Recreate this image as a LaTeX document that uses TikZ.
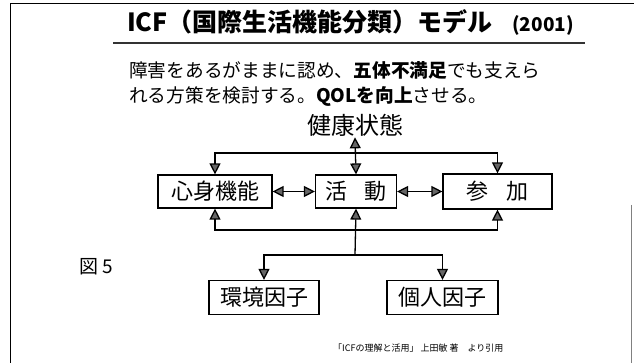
\documentclass[tikz,border=0pt]{standalone}
\usepackage{fontspec}
\newfontfamily\jp{Noto Sans CJK JP}
\usetikzlibrary{arrows.meta}

\begin{document}
\begin{tikzpicture}[x=1pt,y=-1pt,
    >={Triangle[width=11pt,length=11pt,fill=black!60]},
    box/.style={draw,line width=1.2pt,inner sep=0pt,minimum height=33pt,
      font=\jp\fontsize{22}{22}\selectfont},
    link/.style={line width=1.3pt}]
  \fill[white] (0,0) rectangle (634,363);
  \useasboundingbox (0,0) rectangle (634,363);

  % Cornice
  \draw[line width=1pt] (10,363) -- (10,4) -- (634,4);
  \draw[line width=1pt,gray] (631,205) -- (631,363);

  % Titolo
  \node[anchor=west,inner sep=0pt,font=\jp\bfseries\fontsize{25}{25}\selectfont]
    (titolo) at (127,22) {ICF（国際生活機能分類）モデル};
  \node[anchor=east,inner sep=0pt,font=\jp\bfseries\fontsize{19}{19}\selectfont]
    (anno) at (574,25) {(2001)};
  \draw[line width=2.5pt,black!80] (113,43) -- (585,43);

  % Testo
  \node[anchor=west,inner sep=0pt,font=\jp\fontsize{18.7}{18.7}\selectfont]
    (riga1) at (129,70) {障害をあるがままに認め、\textbf{五体不満足}でも支えら};
  \node[anchor=west,inner sep=0pt,font=\jp\fontsize{18.7}{18.7}\selectfont]
    (riga2) at (129,96) {れる方策を検討する。\textbf{QOLを向上}させる。};

  % Nodi
  \node[inner sep=1pt,font=\jp\fontsize{24}{24}\selectfont]
    (kenko) at (355,125) {健康状態};
  \node[box,minimum width=114pt] (shin) at (215,191.5) {心身機能};
  \node[box,minimum width=81pt] (katsudo) at (356,191.5) {活\hspace{0.75em}動};
  \node[box,minimum width=109pt,minimum height=35pt] (sanka) at (497.5,191.5) {参\hspace{0.8em}加};
  \node[box,minimum width=110pt,minimum height=34pt] (kankyo) at (264,297.5) {環境因子};
  \node[box,minimum width=111pt,minimum height=34pt] (kojin) at (442.5,297.5) {個人因子};

  \node[font=\jp\fontsize{19}{19}\selectfont] (fig) at (96,267) {図 5};
  \node[anchor=west,inner sep=0pt,font=\jp\fontsize{9}{9}\selectfont]
    (fonte) at (333,348) {「ICFの理解と活用」 上田敏 著\quad より引用};

  % Collegamenti
  \coordinate (sopra) at (355,153);
  \coordinate (sotto) at (355,230);
  \coordinate (bivio) at (355,255);

  \draw[link,<->] (kenko.south) -- (katsudo.north);
  \draw[link,<->] (shin.north) -- (shin.north |- sopra) -| (sanka.north);
  \draw[link,<->] (shin.south) -- (shin.south |- sotto) -| (sanka.south);
  \draw[link,<->] (shin.east) -- (katsudo.west);
  \draw[link,<->] (katsudo.east) -- (sanka.west);
  \draw[link,->] (bivio) -- (katsudo.south);
  \draw[link,->] (bivio) -| (kankyo.north);
  \draw[link,->] (bivio) -| (kojin.north);
\end{tikzpicture}
\end{document}
